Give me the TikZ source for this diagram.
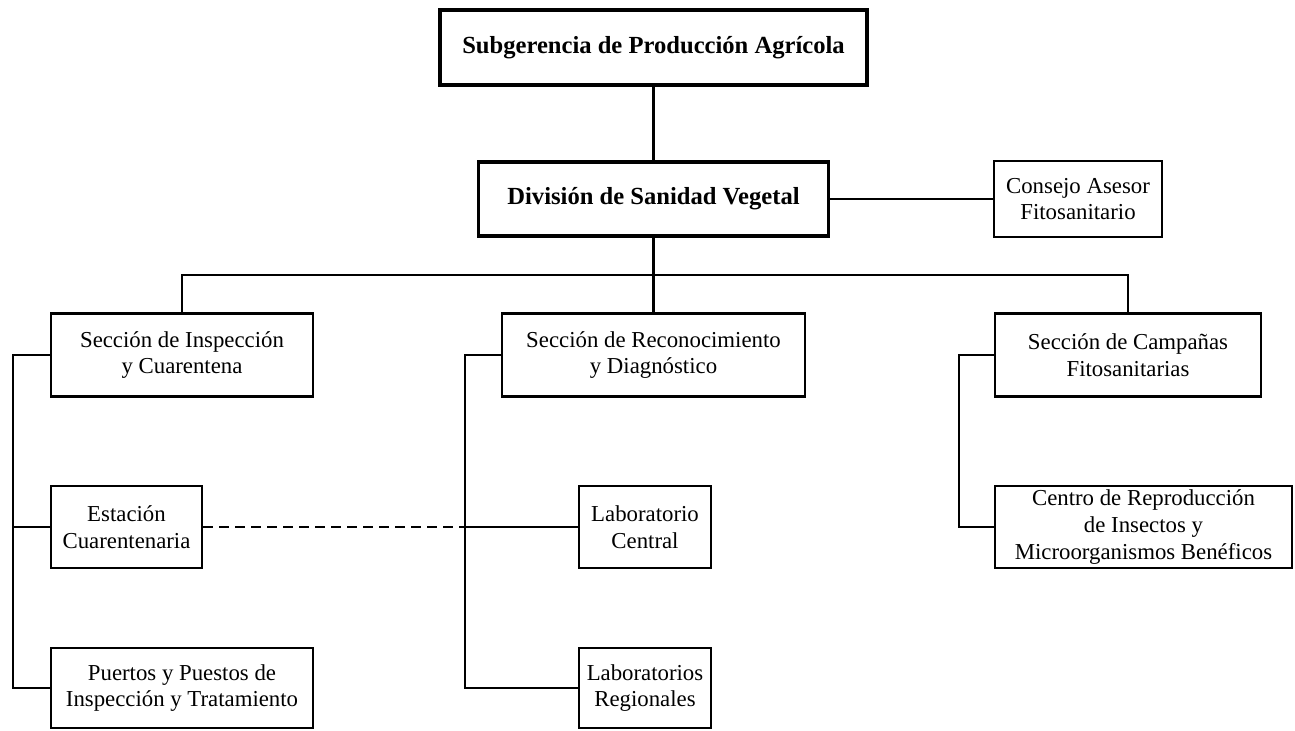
\documentclass[tikz,border=0pt]{standalone}
\usepackage{fontspec}
\setmainfont{Liberation Serif}
\begin{document}
\begin{tikzpicture}[x=.5pt,y=-.5pt,
  unitbox/.style={draw=black,line width=1.4pt,fill=white,inner sep=0pt,align=center,font=\fontsize{11.4}{13.3}\selectfont},
  headbox/.style={unitbox,line width=1.7pt,font=\bfseries\fontsize{12.3}{14.5}\selectfont},
  link/.style={draw=black,line width=1.2pt},
  dashlink/.style={draw=black,line width=1pt,dash pattern=on 5pt off 3pt}]
\path[use as bounding box] (0,0) rectangle (1295,731);
\path[fill=white,draw=none] (0,0) rectangle (1295,731);
\node[headbox,minimum width=213.5pt,minimum height=37.5pt] (sub) at (653.5,47.5) {Subgerencia de Producción Agrícola};
\node[headbox,minimum width=175pt,minimum height=37pt] (div) at (653.5,199) {División de Sanidad Vegetal};
\node[unitbox,minimum width=84pt,minimum height=38pt] (cons) at (1078,199) {Consejo Asesor\\Fitosanitario};
\node[unitbox,minimum width=131pt,minimum height=41.5pt] (insp) at (182,355) {Sección de Inspección\\y Cuarentena};
\node[unitbox,minimum width=151.5pt,minimum height=41.5pt] (recon) at (653.5,355) {Sección de Reconocimiento\\y Diagnóstico};
\node[unitbox,minimum width=133pt,minimum height=41.5pt] (camp) at (1128,355) {Sección de Campañas\\Fitosanitarias};
\node[unitbox,minimum width=75.5pt,minimum height=41pt] (est) at (126.5,527) {Estación\\Cuarentenaria};
\node[unitbox,minimum width=66pt,minimum height=41pt] (labc) at (645,527) {Laboratorio\\Central};
\node[unitbox,minimum width=148.5pt,minimum height=41pt] (centro) at (1143.5,527) {Centro de Reproducción\\de Insectos y\\Microorganismos Benéficos};
\node[unitbox,minimum width=131pt,minimum height=40pt] (puertos) at (182,688) {Puertos y Puestos de\\Inspección y Tratamiento};
\node[unitbox,minimum width=66pt,minimum height=40pt] (labr) at (645,688) {Laboratorios\\Regionales};
\coordinate (bus) at (653.5,275);
\coordinate (lbar) at (13,0);
\coordinate (mbar) at (465,0);
\coordinate (rbar) at (959,0);
\draw[link] (sub) -- (div);
\draw[link] (div) -- (cons);
\draw[link] (div) -- (bus);
\draw[link] (insp.north) |- (bus) -| (camp.north);
\draw[link] (bus) -- (recon.north);
\draw[link] (insp.west) -| (lbar |- puertos) -- (puertos.west);
\draw[link] (est.west) -- (est.west -| lbar);
\draw[link] (recon.west) -| (mbar |- labr) -- (labr.west);
\draw[link] (labc.west) -- (labc.west -| mbar);
\draw[dashlink] (est.east) -- (est.east -| mbar);
\draw[link] (camp.west) -| (rbar |- centro) -- (centro.west);
\end{tikzpicture}
\end{document}
